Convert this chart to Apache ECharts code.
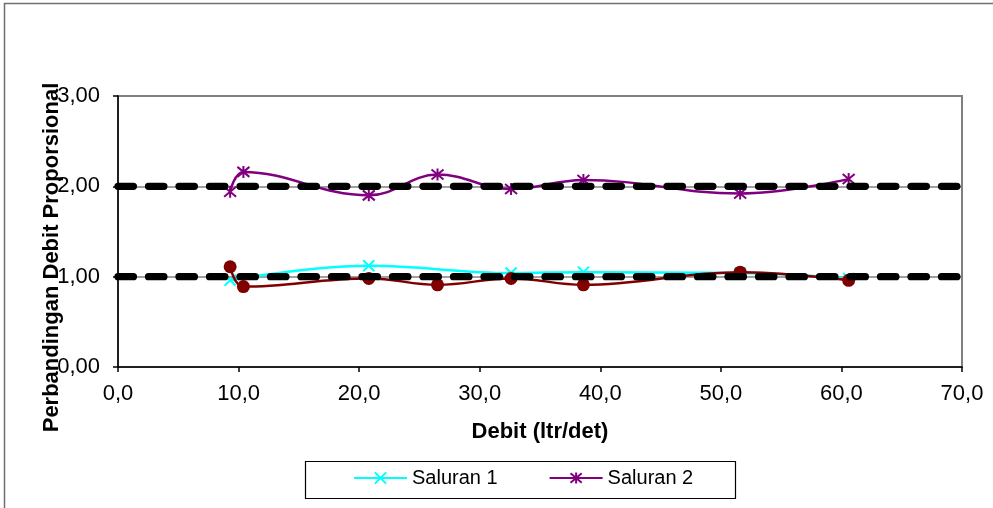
<!DOCTYPE html>
<html>
<head>
<meta charset="utf-8">
<style>
html,body{margin:0;padding:0;background:#fff;}
#chart{width:993px;height:508px;}
</style>
<script src="https://cdn.jsdelivr.net/npm/echarts@6/dist/echarts.min.js"></script>
</head>
<body>
<div id="chart"></div>
<script>
// Data
const debitAll = [9.3, 10.4, 20.8, 26.5, 32.6, 38.6, 51.6, 60.6];
const saluran2 = [1.94, 2.16, 1.90, 2.13, 1.97, 2.07, 1.92, 2.08];
const saluran3 = [1.11, 0.89, 0.98, 0.91, 0.98, 0.91, 1.05, 0.96];
const debit1 = [9.3, 20.8, 32.6, 38.6, 51.6, 60.6];
const saluran1 = [0.96, 1.12, 1.04, 1.05, 1.04, 0.98];
const refLevels = [1, 2];
const xRange = [0, 70];
const seriesNames = ['Saluran 1', 'Saluran 2', 'Saluran 3'];
const xTitle = 'Debit (ltr/det)';
const yTitle = 'Perbandingan Debit Proporsional';

const FONT = "'Liberation Sans', Arial, sans-serif";
const pair = (xs, ys) => xs.map((x, i) => [x, ys[i]]);

const xMark = 'path://M0,0L10,10M10,0L0,10';
const starMark = 'path://M0,0L10,10M10,0L0,10M5,-1L5,11';

const chart = echarts.init(document.getElementById('chart'), null, {renderer: 'canvas'});

const refSeries = refLevels.map(v => ({
  type: 'line',
  name: 'ref' + v,
  data: xRange.map(x => [x, v]),
  symbol: 'none',
  silent: true,
  z: 5,
  lineStyle: {color: '#000', width: 7.3, type: [15.4, 15.1], cap: 'round'}
}));

chart.setOption({
  animation: false,
  backgroundColor: '#fff',
  grid: {left: 118, right: 31, top: 96, bottom: 141, show: true, borderColor: '#808080', borderWidth: 2, backgroundColor: 'transparent'},
  xAxis: {
    type: 'value', min: 0, max: 70, interval: 10,
    name: xTitle, nameLocation: 'middle', nameGap: 54,
    nameTextStyle: {fontFamily: FONT, fontSize: 22, fontWeight: 'bold', color: '#000'},
    axisLine: {show: true, onZero: false, lineStyle: {color: '#000', width: 1.5}},
    axisTick: {show: true, length: 5, lineStyle: {color: '#000', width: 1.5}},
    axisLabel: {fontFamily: FONT, fontSize: 22, color: '#000', margin: 16,
      formatter: v => v.toFixed(1).replace('.', ',')},
    splitLine: {show: false}
  },
  yAxis: {
    type: 'value', min: 0, max: 3, interval: 1,
    axisLine: {show: true, lineStyle: {color: '#000', width: 1.5}},
    axisTick: {show: true, length: 5, lineStyle: {color: '#000', width: 1.5}},
    axisLabel: {fontFamily: FONT, fontSize: 22, color: '#000', margin: 18,
      formatter: v => v.toFixed(2).replace('.', ',')},
    splitLine: {show: true, lineStyle: {color: '#808080', width: 1.5}}
  },
  legend: {
    data: ['Saluran 1', 'Saluran 2'],
    left: 353, top: 468,
    itemWidth: 53, itemHeight: 14, itemGap: 51,
    textStyle: {fontFamily: FONT, fontSize: 20, color: '#000'},
    padding: 0
  },
  graphic: [
    {type: 'rect', shape: {x: 4.5, y: 3.5, width: 1000, height: 520}, style: {fill: 'none', stroke: '#707070', lineWidth: 1.5}, silent: true, z: -10},
    {type: 'rect', shape: {x: 305.5, y: 461.5, width: 430, height: 37}, style: {fill: 'none', stroke: '#000', lineWidth: 1.2}, silent: true},
    {type: 'text', x: 52, y: 257.5, rotation: Math.PI / 2, silent: true,
      style: {text: yTitle, font: "bold 22px 'Liberation Sans', Arial, sans-serif", fill: '#000', align: 'center', verticalAlign: 'middle'}}
  ],
  series: [
    {
      type: 'line', name: seriesNames[0], data: pair(debit1, saluran1),
      smooth: 0.4, symbol: xMark, symbolSize: 11, z: 3,
      lineStyle: {color: '#00FFFF', width: 2.5},
      itemStyle: {color: '#00FFFF', borderColor: '#00FFFF', borderWidth: 2}
    },
    {
      type: 'line', name: seriesNames[1], data: pair(debitAll, saluran2),
      smooth: 0.4, symbol: starMark, symbolSize: 12, z: 3,
      lineStyle: {color: '#800080', width: 2.5},
      itemStyle: {color: '#800080', borderColor: '#800080', borderWidth: 2}
    },
    {
      type: 'line', name: seriesNames[2], data: pair(debitAll, saluran3),
      smooth: 0.4, symbol: 'circle', symbolSize: 13, z: 4,
      lineStyle: {color: '#800000', width: 2.5},
      itemStyle: {color: '#800000', borderWidth: 0}
    },
    ...refSeries
  ]
});
</script>
</body>
</html>
